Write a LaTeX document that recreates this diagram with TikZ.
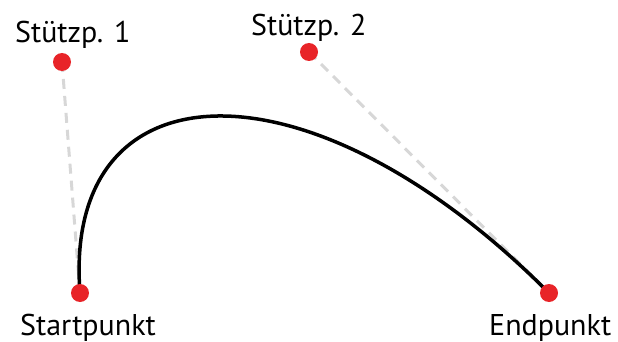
\documentclass[tikz,border=0pt]{standalone}
\usepackage{fontspec}
\setmainfont{PT Sans}
\definecolor{dotred}{RGB}{232,36,40}
\definecolor{dashgray}{RGB}{215,215,215}
\begin{document}
\begin{tikzpicture}[x=1pt,y=-1pt,
  pt/.style={circle,fill=dotred,inner sep=0pt,minimum size=18pt},
  lbl/.style={anchor=base west,inner sep=0pt,font=\fontsize{30}{34}\selectfont},
  helper/.style={dashgray,line width=3pt,dash pattern=on 10pt off 7pt},
  curve/.style={black,line width=3.5pt}]
\useasboundingbox (0,0) rectangle (618,342);
\coordinate (s) at (80,293);
\coordinate (c1) at (62,62);
\coordinate (c2) at (309,52);
\coordinate (e) at (549,293);
\draw[helper] (c1) -- (s);
\draw[helper] (c2) -- (e);
\draw[curve] (s) .. controls (c1) and (c2) .. (e);
\node[pt] (ns) at (s) {};
\node[pt] (nc1) at (c1) {};
\node[pt] (nc2) at (c2) {};
\node[pt] (ne) at (e) {};
\node[lbl] (l1) at (15,43) {Stützp. 1};
\node[lbl] (l2) at (251,36) {Stützp. 2};
\node[lbl] (l3) at (20,335) {Startpunkt};
\node[lbl] (l4) at (489,335) {Endpunkt};
\end{tikzpicture}
\end{document}
